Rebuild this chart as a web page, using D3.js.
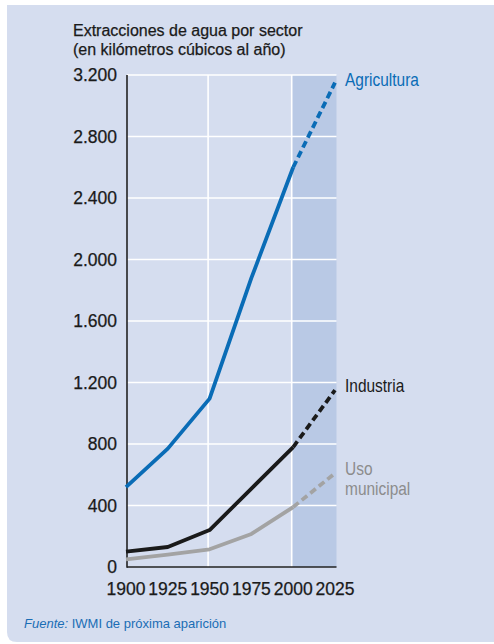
<!DOCTYPE html>
<html><head><meta charset="utf-8">
<script src="https://cdn.jsdelivr.net/npm/d3@7"></script>
<style>
html,body{margin:0;padding:0;background:#fff;}
svg{display:block;font-family:"Liberation Sans",Arial,sans-serif;}
</style></head>
<body><svg id="c" width="494" height="644"></svg>
<script>
const years = [1900, 1925, 1950, 1975, 2000, 2025];
const agricultura = [520, 770, 1095, 1880, 2600, 3150];
const industria = [100, 130, 240, 510, 780, 1150];
const municipal = [50, 80, 115, 215, 390, 610];
const yTicks = [0, 400, 800, 1200, 1600, 2000, 2400, 2800, 3200];
const yTickLabels = ["0", "400", "800", "1.200", "1.600", "2.000", "2.400", "2.800", "3.200"];
const xTickLabels = ["1900", "1925", "1950", "1975", "2000", "2025"];
const xGrid = [1950, 2000];
const projStart = 2000;

const svg = d3.select("#c");
const x = d3.scaleLinear().domain([1900, 2025]).range([126, 335]);
const y = d3.scaleLinear().domain([0, 3200]).range([567, 75]);
const left = 127, right = 336.5;

// panel
svg.append("path")
  .attr("d", `M7,5 H494 V642 H17 Q7,642 7,632 Z`)
  .attr("fill", "#d5ddef");

// projection shading
svg.append("rect")
  .attr("x", x(projStart) - 1.5).attr("y", y(3200))
  .attr("width", right - x(projStart) + 1.5).attr("height", y(0) - y(3200))
  .attr("fill", "#b9c9e5");

// horizontal grid
svg.append("g").selectAll("line").data(yTicks.slice(1)).join("line")
  .attr("x1", left).attr("x2", right)
  .attr("y1", d => y(d)).attr("y2", d => y(d))
  .attr("stroke", "#fff").attr("stroke-width", 1.6);
// vertical grid
svg.append("g").selectAll("line").data(xGrid).join("line")
  .attr("x1", d => x(d) - 1.5).attr("x2", d => x(d) - 1.5)
  .attr("y1", y(3200)).attr("y2", y(0))
  .attr("stroke", "#fff").attr("stroke-width", 1.6);

// y tick labels
svg.append("g").selectAll("text").data(yTicks).join("text")
  .attr("x", 117).attr("y", d => y(d)).attr("dy", "0.36em")
  .attr("text-anchor", "end").attr("font-size", 17.5).attr("fill", "#1a1a1a")
  .attr("stroke", "#1a1a1a").attr("stroke-width", 0.25)
  .text((d, i) => yTickLabels[i]);
// x tick labels
svg.append("g").selectAll("text").data(years).join("text")
  .attr("x", d => x(d)).attr("y", 595)
  .attr("text-anchor", "middle").attr("font-size", 17.5).attr("fill", "#1a1a1a")
  .attr("stroke", "#1a1a1a").attr("stroke-width", 0.25)
  .text((d, i) => xTickLabels[i]);

// axes lines
svg.append("line").attr("x1", left).attr("x2", left).attr("y1", y(3200)).attr("y2", y(0) + 0.8)
  .attr("stroke", "#222").attr("stroke-width", 1.6);
svg.append("line").attr("x1", left).attr("x2", right).attr("y1", y(0)).attr("y2", y(0))
  .attr("stroke", "#222").attr("stroke-width", 1.6);

// series
const series = [
  {vals: municipal, color: "#a3a3a3"},
  {vals: industria, color: "#1a1a1a"},
  {vals: agricultura, color: "#0a6cb6"}
];
const line = d3.line().x(d => x(d[0])).y(d => y(d[1]));
series.forEach(s => {
  const pts = years.map((yr, i) => [yr, s.vals[i]]);
  const hist = pts.filter(p => p[0] <= projStart);
  const proj = pts.filter(p => p[0] >= projStart);
  svg.append("path").attr("d", line(hist)).attr("fill", "none")
    .attr("stroke", s.color).attr("stroke-width", 3.8).attr("stroke-linejoin", "round");
  svg.append("path").attr("d", line(proj)).attr("fill", "none")
    .attr("stroke", s.color).attr("stroke-width", 3.8).attr("stroke-dasharray", "7,4");
});

// series labels (condensed look via horizontal scaling)
function label(txt, lx, ly, color) {
  svg.append("text").attr("transform", `translate(${lx},${ly}) scale(0.86,1)`)
    .attr("font-size", 18).attr("fill", color).text(txt);
}
label("Agricultura", 345, 86, "#0a6cb6");
label("Industria", 345, 392, "#1a1a1a");
label("Uso", 345, 475, "#8c8c8c");
label("municipal", 345, 495, "#8c8c8c");

// title
svg.append("text").attr("x", 73).attr("y", 36).attr("font-size", 16).attr("fill", "#1a1a1a")
  .attr("stroke", "#1a1a1a").attr("stroke-width", 0.25).text("Extracciones de agua por sector");
svg.append("text").attr("x", 73).attr("y", 55).attr("font-size", 16).attr("fill", "#1a1a1a")
  .attr("stroke", "#1a1a1a").attr("stroke-width", 0.25).text("(en kilómetros cúbicos al año)");

// source
const src = svg.append("text").attr("x", 24).attr("y", 628).attr("font-size", 13).attr("fill", "#1a6db5");
src.append("tspan").attr("font-style", "italic").text("Fuente:");
src.append("tspan").text(" IWMI de próxima aparición");
</script></body></html>
